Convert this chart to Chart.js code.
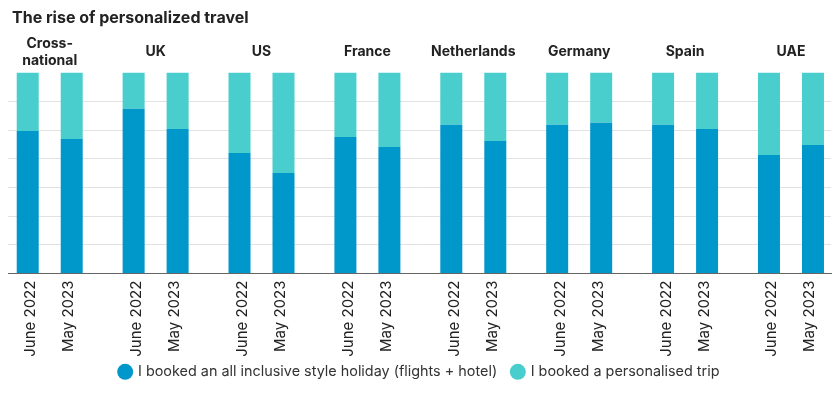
<!DOCTYPE html>
<html>
<head>
<meta charset="utf-8">
<script src="https://cdn.jsdelivr.net/npm/chart.js@4.4.1/dist/chart.umd.min.js"></script>
<style>
  html, body { margin: 0; padding: 0; background: #fff; }
  #wrap { position: relative; width: 840px; height: 393px; }
  #title { position: absolute; left: 12px; top: 7px; line-height: 20px; font: bold 16px Inter, sans-serif; color: #222; }
  canvas { display: block; }
</style>
</head>
<body>
<div id="wrap">
  <div id="title">The rise of personalized travel</div>
  <canvas id="travelChart" width="840" height="393"></canvas>
</div>
<script>
// ---------- Data ---------- //
const countries = [["Cross-", "national"], "UK", "US", "France", "Netherlands", "Germany", "Spain", "UAE"];
const periods = ["June 2022", "May 2023"];
const seriesNames = ["I booked an all inclusive style holiday (flights + hotel)", "I booked a personalised trip"];

// share of respondents (%), June 2022
const allInclusiveJune = [71, 82, 60, 68, 74, 74, 74, 59];
const personalisedJune = [29, 18, 40, 32, 26, 26, 26, 41];
// share of respondents (%), May 2023
const allInclusiveMay = [67, 72, 50, 63, 66, 75, 72, 64];
const personalisedMay = [33, 28, 50, 37, 34, 25, 28, 36];

const BLUE = "#0097cb";
const TEAL = "#49cdcd";
const FONT = "Inter";

// group index -> {x, y} for the linear x scale
const toPoints = (arr) => arr.map((v, i) => ({ x: i, y: v }));

// ---------- Rotated period labels under each bar ---------- //
const periodLabels = {
  id: "periodLabels",
  afterDraw(chart) {
    const ctx = chart.ctx;
    const bottom = chart.chartArea.bottom;
    [0, 2].forEach((dsIndex, k) => {
      const shift = k === 0 ? 3 : -3; // labels sit a bit closer together than the bars
      chart.getDatasetMeta(dsIndex).data.forEach((bar) => {
        ctx.save();
        ctx.translate(bar.x + shift, bottom + 7);
        ctx.rotate(-Math.PI / 2);
        ctx.font = "15px " + FONT;
        ctx.fillStyle = "#222";
        ctx.textAlign = "right";
        ctx.textBaseline = "middle";
        ctx.fillText(periods[k], 0, 0);
        ctx.restore();
      });
    });
  },
};

// ---------- Chart ---------- //
const ctx = document.getElementById("travelChart").getContext("2d");
const travelChart = new Chart(ctx, {
  type: "bar",
  data: {
    datasets: [
      { label: seriesNames[0], data: toPoints(allInclusiveJune), stack: "june", backgroundColor: BLUE },
      { label: seriesNames[1], data: toPoints(personalisedJune), stack: "june", backgroundColor: TEAL },
      { label: seriesNames[0], data: toPoints(allInclusiveMay), stack: "may", backgroundColor: BLUE },
      { label: seriesNames[1], data: toPoints(personalisedMay), stack: "may", backgroundColor: TEAL },
    ],
  },
  options: {
    responsive: false,
    animation: false,
    categoryPercentage: 0.831,
    barPercentage: 0.5,
    layout: { padding: { left: 8, right: 9, top: 23, bottom: 4 } },
    plugins: {
      title: { display: false },
      tooltip: { enabled: false },
      legend: {
        position: "bottom",
        labels: {
          filter: (item) => item.datasetIndex < 2,
          usePointStyle: true,
          pointStyle: "circle",
          boxWidth: 11.3,
          boxHeight: 11.3,
          padding: 15,
          color: "#333",
          font: { family: FONT, size: 14.4 },
        },
      },
    },
    scales: {
      x: {
        type: "linear",
        position: "bottom",
        min: -0.394,
        max: 7.378,
        offset: false,
        grid: { display: false },
        border: { display: true, color: "#666" },
        ticks: { display: false, stepSize: 1, includeBounds: false },
        afterFit(scale) { scale.height = 76; },
      },
      x2: {
        type: "linear",
        position: "top",
        min: -0.394,
        max: 7.378,
        offset: false,
        grid: { display: false },
        border: { display: false },
        ticks: {
          stepSize: 1,
          includeBounds: false,
          autoSkip: false,
          maxRotation: 0,
          crossAlign: "center",
          padding: 4,
          color: "#222",
          font: { family: FONT, size: 14, weight: "bold" },
          callback: (v) => countries[v],
        },
      },
      y: {
        stacked: true,
        min: 0,
        max: 100,
        border: { display: false },
        ticks: { display: false, stepSize: 100 / 7 },
        grid: {
          drawTicks: false,
          color: (c) => (c.tick && c.tick.value > 0 && c.tick.value < 99.9 ? "#e2e2e2" : "transparent"),
        },
      },
    },
  },
  plugins: [periodLabels],
});
</script>
</body>
</html>
